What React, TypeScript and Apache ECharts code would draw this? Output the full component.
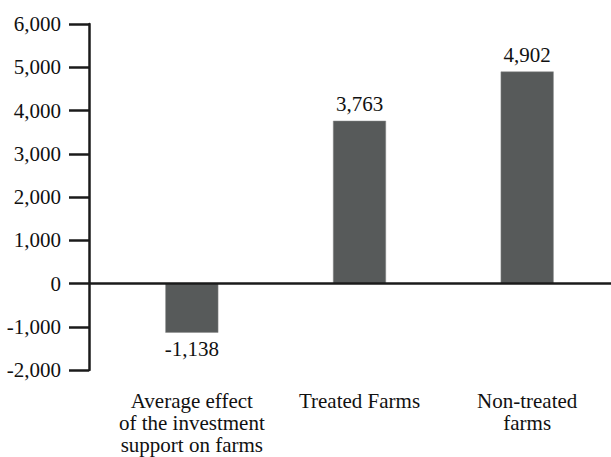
import React, { useEffect, useRef } from "react";
import * as echarts from "echarts";

const categories = [
  "Average effect\nof the investment\nsupport on farms",
  "Treated Farms",
  "Non-treated\nfarms",
];
const values = [-1138, 3763, 4902];
const yMin = -2000;
const yMax = 6000;
const yInterval = 1000;

const FONT = "'Liberation Serif', 'Times New Roman', serif";

export default function App() {
  const ref = useRef<HTMLDivElement>(null);
  useEffect(() => {
    document.body.style.margin = "0";
    if (!ref.current) return;
    const chart = echarts.init(ref.current, undefined, { renderer: "svg" });
    const gridLeft = 108;
    const axisOffset = 19;
    chart.setOption({
      animation: false,
      grid: { left: gridLeft, right: 0, top: 24, bottom: 87 },
      xAxis: {
        type: "category",
        data: categories,
        position: "bottom",
        axisLine: { show: false, onZero: false },
        axisTick: { show: false },
        axisLabel: {
          margin: 20,
          fontFamily: FONT,
          fontSize: 21,
          lineHeight: 22,
          color: "#111",
          align: "center",
          interval: 0,
        },
      },
      yAxis: {
        type: "value",
        min: yMin,
        max: yMax,
        interval: yInterval,
        offset: axisOffset,
        axisLine: { show: true, lineStyle: { color: "#1a1a1a", width: 2.5 } },
        axisTick: { show: true, length: 20, lineStyle: { color: "#1a1a1a", width: 2.5 } },
        splitLine: { show: false },
        axisLabel: {
          margin: 28,
          fontFamily: FONT,
          fontSize: 21,
          color: "#111",
          formatter: (v: number) => v.toLocaleString("en-US"),
        },
      },
      series: [
        {
          type: "bar",
          data: values.map((v) => ({
            value: v,
            label: { position: v < 0 ? "bottom" : "top" },
          })),
          barWidth: 53,
          itemStyle: { color: "#575a5a", borderColor: "#8a8c8c", borderWidth: 0.5 },
          label: {
            show: true,
            fontFamily: FONT,
            fontSize: 21,
            color: "#111",
            distance: 6,
            formatter: (p: any) => Number(p.value).toLocaleString("en-US"),
          },
        },
      ],
    });
    const y0 = chart.convertToPixel({ yAxisIndex: 0 }, 0) as number;
    const w = chart.getWidth();
    chart.setOption({
      graphic: [
        {
          type: "line",
          z: 100,
          shape: { x1: gridLeft - axisOffset, y1: y0, x2: w, y2: y0 },
          style: { stroke: "#1a1a1a", lineWidth: 2.5 },
        },
      ],
    });
    return () => chart.dispose();
  }, []);
  return <div ref={ref} style={{ width: 611, height: 457 }} />;
}
